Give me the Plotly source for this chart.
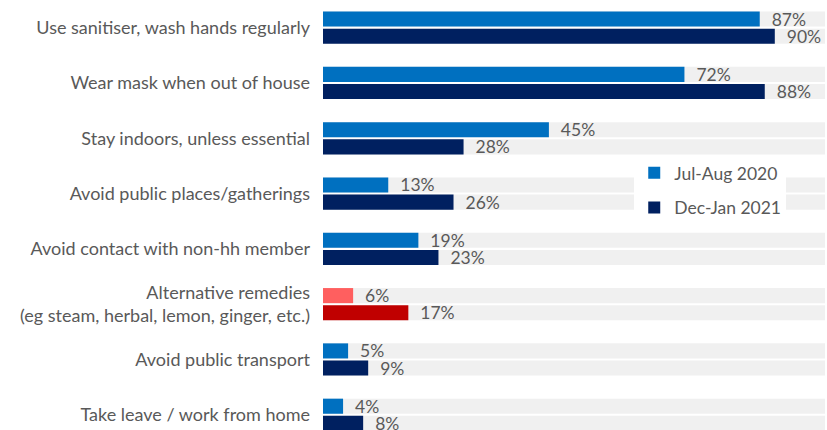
import plotly.graph_objects as go

categories = [
    "Use sanitiser, wash hands regularly",
    "Wear mask when out of house",
    "Stay indoors, unless essential",
    "Avoid public places/gatherings",
    "Avoid contact with non-hh member",
    "Alternative remedies<br>(eg steam, herbal, lemon, ginger, etc.)",
    "Avoid public transport",
    "Take leave / work from home",
]
jul_aug_2020 = [87, 72, 45, 13, 19, 6, 5, 4]
dec_jan_2021 = [90, 88, 28, 26, 23, 17, 9, 8]
full_scale = [100] * len(categories)
highlight = "Alternative remedies<br>(eg steam, herbal, lemon, ginger, etc.)"

C1, C2 = "#0070C0", "#002060"
H1, H2 = "#FF5F5F", "#C00000"
BG = "#F0F0F0"
TXT = "#595959"
FONT = "Lato, Carlito, 'Open Sans', sans-serif"

col1 = [H1 if c == highlight else C1 for c in categories]
col2 = [H2 if c == highlight else C2 for c in categories]

fig = go.Figure()
for og in ["a", "b"]:
    fig.add_trace(go.Bar(
        y=categories, x=full_scale, orientation="h", offsetgroup=og,
        marker=dict(color=BG, line=dict(width=0)), showlegend=False,
        hoverinfo="skip", legendgroup="bg",
    ))
fig.add_trace(go.Bar(
    y=categories, x=jul_aug_2020, orientation="h", offsetgroup="a",
    name="Jul-Aug 2020", legendgroup="g1",
    marker=dict(color=col1, line=dict(width=0)),
    texttemplate="\u00a0\u00a0%{x}%", textposition="outside",
    constraintext="none",
    textfont=dict(color=TXT, size=17.5, family=FONT),
))
fig.add_trace(go.Bar(
    y=categories, x=dec_jan_2021, orientation="h", offsetgroup="b",
    name="Dec-Jan 2021", legendgroup="g2",
    marker=dict(color=col2, line=dict(width=0)),
    texttemplate="\u00a0\u00a0%{x}%", textposition="outside",
    constraintext="none",
    textfont=dict(color=TXT, size=17.5, family=FONT),
))

fig.update_layout(
    width=827, height=430,
    margin=dict(l=323, r=2, t=0, b=0),
    paper_bgcolor="white", plot_bgcolor="white",
    barmode="group", bargap=0.38, bargroupgap=0.12,
    font=dict(family=FONT, size=18, color=TXT),
    showlegend=True,
    legend=dict(
        x=0.62, y=0.64, xanchor="left", yanchor="top",
        bgcolor="white", font=dict(size=17.5, color=TXT, family=FONT),
        traceorder="grouped", tracegroupgap=9,
    ),
)
fig.update_xaxes(range=[0, 100], visible=False, showgrid=False,
                 zeroline=False, automargin=False)
fig.update_yaxes(
    categoryorder="array", categoryarray=categories,
    range=[len(categories) - 0.5 - 0.225, -0.5],
    showgrid=False, zeroline=False, showline=False, ticks="",
    ticklabelstandoff=12, automargin=False,
    tickfont=dict(size=18, color=TXT, family=FONT),
)

fig.write_html(
    "out.html",
    config={"displayModeBar": False},
    post_script="document.body.style.margin='0px';document.body.style.overflow='hidden';",
)
